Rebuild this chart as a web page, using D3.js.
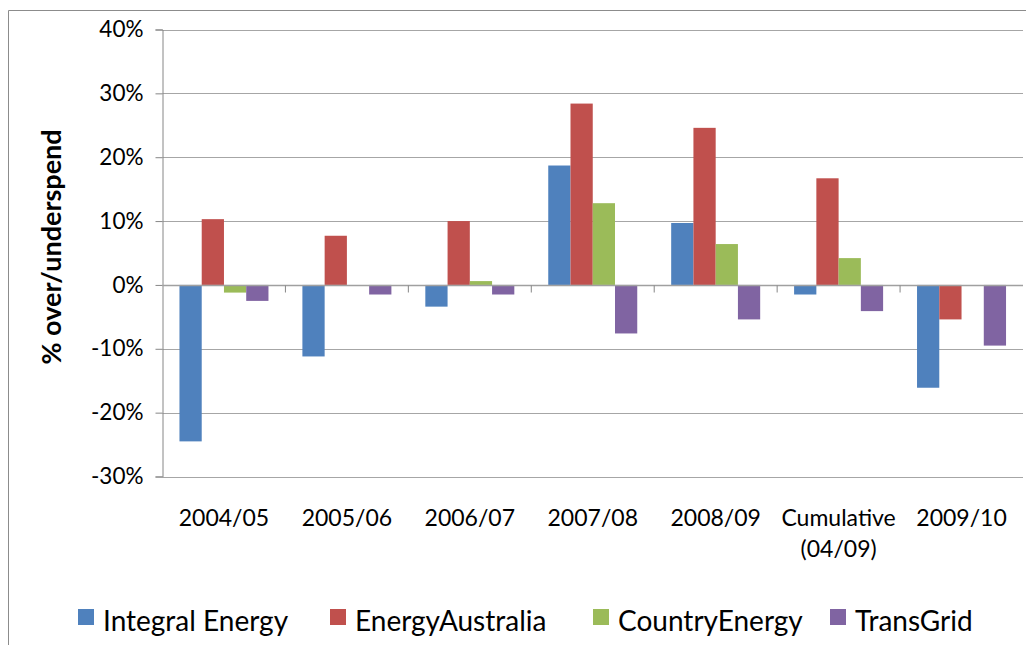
<!DOCTYPE html>
<html><head><meta charset="utf-8">
<script src="https://cdn.jsdelivr.net/npm/d3@7"></script>
<style>body{margin:0;background:#fff}svg{display:block}text{font-family:Lato,"Open Sans",sans-serif;fill:#000}</style>
</head><body>
<svg id="c" width="1026" height="645"></svg>
<script>
const categories = ["2004/05","2005/06","2006/07","2007/08","2008/09","Cumulative\n(04/09)","2009/10"];
const seriesNames = ["Integral Energy","EnergyAustralia","CountryEnergy","TransGrid"];
const integralEnergy  = [-24.5, -11.2, -3.4, 18.7, 9.7, -1.5, -16.1];
const energyAustralia = [10.3, 7.7, 10.0, 28.4, 24.6, 16.7, -5.4];
const countryEnergy   = [-1.2, 0, 0.6, 12.8, 6.4, 4.2, 0];
const transGrid       = [-2.5, -1.5, -1.5, -7.6, -5.4, -4.1, -9.5];
const yTicks = [-30,-20,-10,0,10,20,30,40];
const colors = ["#4F81BD","#C0504D","#9BBB59","#8064A2"];
const seriesValues = [integralEnergy, energyAustralia, countryEnergy, transGrid];

(function(){
const svg = d3.select("#c");
const pL = 162.5, pR = 1023, pT = 29.5, pB = 476.5;
const x = d3.scaleBand().domain(categories).range([pL, pR]).paddingInner(0.276).paddingOuter(0.138);
const xs = d3.scaleBand().domain(seriesNames).range([0, x.bandwidth()]);
const y = d3.scaleLinear().domain([-30,40]).range([pB, pT]);

// outer border
svg.append("path").attr("d","M8.5,645 V10.5 H1026").attr("fill","none").attr("stroke","#8c8c8c").attr("stroke-width",1);

// gridlines
svg.append("g").selectAll("line").data(yTicks.filter(d=>d!==0)).join("line")
  .attr("x1",pL).attr("x2",pR).attr("y1",d=>Math.round(y(d))+0.5).attr("y2",d=>Math.round(y(d))+0.5)
  .attr("stroke","#a6a6a6").attr("stroke-width",1.2);

// y axis
const yAxis = d3.axisLeft(y).tickValues(yTicks).tickSize(7).tickPadding(12).tickFormat(d=>d+"%");
const ya = svg.append("g").attr("transform",`translate(${pL},0)`).call(yAxis);
ya.select(".domain").attr("stroke","#868686");
ya.selectAll(".tick line").attr("stroke","#868686");
ya.selectAll(".tick text").attr("font-size",22.5).style("font-family","Lato").attr("fill","#000");

// bars
const g = svg.append("g");
seriesNames.forEach((s,si)=>{
  g.selectAll(null).data(categories).join("rect")
    .attr("x",c=>x(c)+xs(s))
    .attr("width",xs.bandwidth())
    .attr("y",(c,i)=>y(Math.max(0,seriesValues[si][i])))
    .attr("height",(c,i)=>Math.abs(y(seriesValues[si][i])-y(0)))
    .attr("fill",colors[si]);
});

// zero axis
const y0 = Math.round(y(0))+0.5;
svg.append("line").attr("x1",pL).attr("x2",pR).attr("y1",y0).attr("y2",y0).attr("stroke","#a0a0a0").attr("stroke-width",1.5);
const step = x.step();
svg.append("g").selectAll("line").data(d3.range(1,categories.length)).join("line")
  .attr("x1",i=>pL+i*step).attr("x2",i=>pL+i*step).attr("y1",y0).attr("y2",y0+7)
  .attr("stroke","#868686");

// x labels
categories.forEach(c=>{
  const lines = c.split("\n");
  const t = svg.append("text").attr("text-anchor","middle").attr("font-size",23)
    .attr("x",x(c)+x.bandwidth()/2).attr("y",526);
  lines.forEach((l,i)=>t.append("tspan").attr("x",x(c)+x.bandwidth()/2).attr("dy",i?31:0).text(l));
});

// y title
svg.append("text").attr("transform","translate(61,247) rotate(-90)").attr("text-anchor","middle")
  .attr("font-size",27).attr("font-weight","bold").text("% over/underspend");

// legend
const legendX = [78, 330, 593, 830];
seriesNames.forEach((s,i)=>{
  svg.append("rect").attr("x",legendX[i]).attr("y",609).attr("width",16).attr("height",16).attr("fill",colors[i]);
  svg.append("text").attr("x",legendX[i]+25).attr("y",631).attr("font-size",28).text(s);
});
})();
</script>
</body></html>
